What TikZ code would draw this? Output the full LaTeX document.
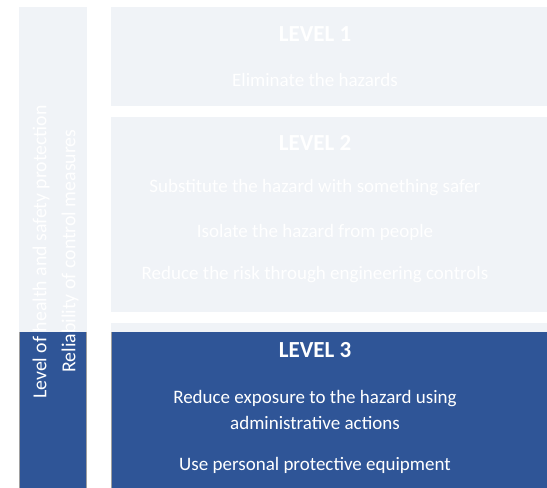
\documentclass[tikz,border=0pt]{standalone}
\usepackage{fontspec}
\setmainfont{Carlito}
\usepackage{tikz}
\definecolor{Pale}{RGB}{240, 243, 247}
\definecolor{Level}{RGB}{47, 85, 151}
\definecolor{Edge}{RGB}{160, 160, 160}

\begin{document}
\begin{tikzpicture}[x=1pt, y=-1pt,
    boxtext/.style={text=white, font=\fontsize{19}{26}\selectfont, align=center, inner sep=0pt},
    sidetext/.style={boxtext, font=\fontsize{19.8}{26}\selectfont, rotate=90},
    leveltitle/.style={text=white, font=\fontsize{23}{26}\selectfont\bfseries, inner sep=0pt}]
    %%Background
    \useasboundingbox[fill=white] (0,0) rectangle (547,488);

    %% Side bar
    \draw[draw=none, fill=Pale] (19,7) rectangle (87,488);
    \draw[draw=none, fill=Level] (19,332) rectangle (87,488);
    \draw[Edge, line width=1.5pt] (19.5,332) to (19.5,488)
    (86.5,332) to (86.5,488);

    %% Level boxes
    \draw[draw=none, fill=Pale] (111,7) rectangle (547,106);
    \draw[draw=none, fill=Pale] (111,117) rectangle (547,312);
    \draw[draw=none, fill=Pale] (111,323) rectangle (547,488);
    \draw[draw=none, fill=Level] (111,332) rectangle (547,488);
    \draw[Edge, line width=1.5pt] (111.5,332) to (111.5,488);

    %% Side labels
    \node[sidetext] (protection) at (41,252) {Level of health and safety protection};
    \node[sidetext] (reliability) at (70,251) {Reliability of control measures};

    %% Level 1
    \node[leveltitle] (level1) at (315,34) {LEVEL 1};
    \node[boxtext] (eliminate) at (315,80) {Eliminate the hazards};

    %% Level 2
    \node[leveltitle] (level2) at (315,143) {LEVEL 2};
    \node[boxtext] (substitute) at (315,188) {Substitute the hazard with something safer};
    \node[boxtext] (isolate) at (315,232) {Isolate the hazard from people};
    \node[boxtext] (engineering) at (315,275) {Reduce the risk through engineering controls};

    %% Level 3
    \node[leveltitle] (level3) at (315,350) {LEVEL 3};
    \node[boxtext] (administrative) at (315,410) {Reduce exposure to the hazard using\\administrative actions};
    \node[boxtext] (equipment) at (315,465) {Use personal protective equipment};
\end{tikzpicture}
\end{document}
